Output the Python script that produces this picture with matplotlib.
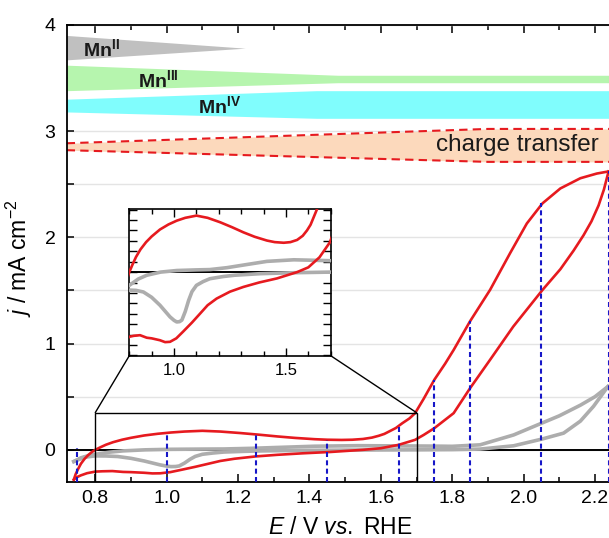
import matplotlib
matplotlib.use("Agg")
import matplotlib.pyplot as plt
from matplotlib.patches import Rectangle, ConnectionPatch
from matplotlib.ticker import MultipleLocator, FuncFormatter

plt.rcParams['font.family'] = ['Liberation Sans', 'DejaVu Sans']
plt.rcParams['mathtext.fontset'] = 'custom'
plt.rcParams['mathtext.rm'] = 'Liberation Sans'
plt.rcParams['mathtext.it'] = 'Liberation Sans:italic'
plt.rcParams['mathtext.bf'] = 'Liberation Sans:bold'

###############################################################################
# Data

# red CV, anodic (upper) branch
red_fwd_E = [0.740, 0.745, 0.752, 0.760, 0.770, 0.780, 0.790, 0.800, 0.815, 0.830,
             0.850, 0.875, 0.900, 0.937, 0.975, 1.012, 1.050, 1.100, 1.150, 1.206,
             1.260, 1.310, 1.360, 1.415, 1.450, 1.490, 1.520, 1.550, 1.575, 1.594,
             1.610, 1.624, 1.642, 1.660, 1.680, 1.696, 1.720, 1.750, 1.780, 1.804,
             1.850, 1.906, 1.962, 2.009, 2.053, 2.103, 2.159, 2.205, 2.238]
red_fwd_j = [-0.280, -0.230, -0.180, -0.130, -0.085, -0.050, -0.022, 0.000, 0.025, 0.048,
             0.072, 0.095, 0.113, 0.135, 0.151, 0.163, 0.172, 0.179, 0.172, 0.158,
             0.142, 0.126, 0.112, 0.100, 0.095, 0.093, 0.095, 0.102, 0.115, 0.132,
             0.150, 0.174, 0.205, 0.250, 0.295, 0.345, 0.480, 0.660, 0.810, 0.940,
             1.210, 1.505, 1.850, 2.130, 2.320, 2.460, 2.556, 2.600, 2.620]

# red CV, cathodic (lower) branch
red_bwd_E = [2.238, 2.225, 2.210, 2.190, 2.168, 2.140, 2.103, 2.053, 1.971, 1.906,
             1.850, 1.804, 1.750, 1.720, 1.696, 1.650, 1.600, 1.550, 1.460, 1.380,
             1.310, 1.250, 1.190, 1.150, 1.117, 1.080, 1.040, 1.010, 0.982, 0.960,
             0.937, 0.900, 0.878, 0.848, 0.820, 0.800, 0.777, 0.760, 0.748, 0.740]
red_bwd_j = [2.620, 2.450, 2.300, 2.150, 2.020, 1.875, 1.700, 1.505, 1.160, 0.847,
             0.580, 0.345, 0.204, 0.140, 0.094, 0.047, 0.015, 0.000, -0.020, -0.033,
             -0.047, -0.062, -0.084, -0.105, -0.131, -0.160, -0.189, -0.210, -0.221, -0.222,
             -0.216, -0.210, -0.208, -0.200, -0.202, -0.205, -0.220, -0.240, -0.258, -0.280]

# grey CV (reference), upper branch
grey_up_E = [0.740, 0.760, 0.780, 0.800, 0.840, 0.878, 0.940, 1.012, 1.100, 1.160,
             1.236, 1.325, 1.415, 1.535, 1.650, 1.750, 1.800, 1.878, 1.972, 2.050,
             2.100, 2.159, 2.200, 2.236]
grey_up_j = [-0.110, -0.075, -0.055, -0.042, -0.022, -0.010, 0.000, 0.005, 0.007, 0.008,
             0.014, 0.024, 0.034, 0.039, 0.037, 0.035, 0.033, 0.047, 0.140, 0.250,
             0.320, 0.420, 0.500, 0.595]

# grey CV (reference), lower branch
grey_lo_E = [0.740, 0.770, 0.800, 0.830, 0.863, 0.900, 0.937, 0.965, 0.982, 1.000,
             1.012, 1.025, 1.035, 1.050, 1.065, 1.080, 1.100, 1.130, 1.160, 1.220,
             1.270, 1.385, 1.535, 1.700, 1.800, 1.878, 1.972, 2.050, 2.112, 2.159,
             2.196, 2.236]
grey_lo_j = [-0.110, -0.070, -0.057, -0.058, -0.063, -0.080, -0.105, -0.128, -0.142, -0.153,
             -0.158, -0.157, -0.152, -0.125, -0.090, -0.062, -0.042, -0.030, -0.021, -0.014,
             -0.010, -0.005, -0.002, 0.000, 0.002, 0.007, 0.038, 0.100, 0.157, 0.270,
             0.410, 0.595]

# potentials marked with blue dashed lines and the current they reach
mark_E = [0.75, 1.00, 1.25, 1.45, 1.65, 1.75, 1.85, 2.05, 2.24]
mark_j = [0.02, 0.163, 0.147, 0.095, 0.235, 0.66, 1.21, 2.32, 2.62]

# oxidation-state bands (x breakpoints, upper edge, lower edge)
mn2_E, mn2_top, mn2_bot = [0.72, 1.22], [3.90, 3.78], [3.67, 3.78]
mn3_E, mn3_top, mn3_bot = [0.72, 1.48, 2.30], [3.62, 3.525, 3.525], [3.38, 3.455, 3.455]
mn4_E, mn4_top, mn4_bot = [0.72, 1.42, 2.30], [3.30, 3.38, 3.38], [3.18, 3.12, 3.12]
ct_E, ct_top, ct_bot = [0.72, 1.90, 2.30], [2.885, 3.02, 3.02], [2.82, 2.71, 2.71]

red = '#e61a1f'
grey = '#adadad'
blue = '#1717c8'

###############################################################################
# Main axes (the right part runs past the figure edge, as in the cropped original)
fig = plt.figure(figsize=(6.09, 5.38), dpi=100)
ax = fig.add_axes([66.7/609, 56.3/538, 564/609, 456.9/538])
ax.set_xlim(0.72, 2.30)
ax.set_ylim(-0.30, 4.0)

ax.yaxis.set_major_locator(MultipleLocator(1))
ax.yaxis.set_minor_locator(MultipleLocator(0.5))
ax.xaxis.set_major_locator(MultipleLocator(0.2))
ax.xaxis.set_minor_locator(MultipleLocator(0.1))
ax.xaxis.set_major_formatter(FuncFormatter(lambda v, p: f'{v:.1f}'))
ax.tick_params(which='both', direction='in', top=True, width=1.1, labelsize=14)
ax.tick_params(axis='x', which='major', length=6, pad=6)
ax.tick_params(axis='x', which='minor', length=3.3)
ax.tick_params(axis='y', which='both', length=5, pad=8)
for s in ax.spines.values():
    s.set_linewidth(1.3)

ax.grid(True, axis='y', which='both', color='#e4e4e4', linewidth=1.0, zorder=0)
ax.set_axisbelow(True)

# bands
ax.fill_between(mn2_E, mn2_top, mn2_bot, color='#c0c0c0', lw=0, zorder=1)
ax.fill_between(mn3_E, mn3_top, mn3_bot, color='#b6f5ae', lw=0, zorder=1)
ax.fill_between(mn4_E, mn4_top, mn4_bot, color='#80fdfd', lw=0, zorder=1)
ax.fill_between(ct_E, ct_top, ct_bot, color='#fcd9bc', lw=0, zorder=1)
ax.plot(ct_E, ct_top, color=red, lw=1.5, ls=(0, (4, 2.5)), zorder=2)
ax.plot(ct_E, ct_bot, color=red, lw=1.5, ls=(0, (4, 2.5)), zorder=2)

ax.text(0.765, 3.77, r'Mn$^{\mathbf{II}}$', fontsize=14, fontweight='bold',
        ha='left', va='center', color='#1a1a1a', zorder=3)
ax.text(0.92, 3.48, r'Mn$^{\mathbf{III}}$', fontsize=14, fontweight='bold',
        ha='left', va='center', color='#1a1a1a', zorder=3)
ax.text(1.088, 3.23, r'Mn$^{\mathbf{IV}}$', fontsize=14, fontweight='bold',
        ha='left', va='center', color='#1a1a1a', zorder=3)
ax.text(1.755, 2.87, 'charge transfer', fontsize=17.5, ha='left', va='center',
        color='#1a1a1a', zorder=3)

# curves
ax.axhline(0, color='black', lw=1.4, zorder=2)
ax.plot(grey_up_E, grey_up_j, color=grey, lw=2.6, zorder=3)
ax.plot(grey_lo_E, grey_lo_j, color=grey, lw=2.6, zorder=3)
ax.plot(red_fwd_E, red_fwd_j, color=red, lw=1.9, zorder=4)
ax.plot(red_bwd_E, red_bwd_j, color=red, lw=1.9, zorder=4)
ax.vlines(mark_E, -0.30, mark_j, colors=blue, lw=1.5, linestyles=(0, (2.4, 1.6)), zorder=5)

ax.set_xlabel(r'$E$ / V $vs.$ RHE', fontsize=16.5)
ax.set_ylabel(r'$j$ / mA cm$^{-2}$', fontsize=16.5)
ax.xaxis.set_label_coords(0.485, -0.076)
ax.yaxis.set_label_coords(-0.058, 0.49)

# zoom rectangle
zx0, zx1, zy0, zy1 = 0.8, 1.7, -0.30, 0.35
ax.add_patch(Rectangle((zx0, zy0), zx1 - zx0, zy1 - zy0, fill=False,
                       edgecolor='black', lw=1.0, zorder=6))

###############################################################################
# Inset
axin = fig.add_axes([129.3/609, (538-355.7)/538, 201.4/609, 146.7/538])
axin.set_xlim(zx0, zx1)
axin.set_ylim(-0.265, 0.2)
axin.xaxis.set_major_locator(MultipleLocator(0.5))
axin.xaxis.set_minor_locator(MultipleLocator(0.1))
axin.yaxis.set_major_locator(MultipleLocator(0.033))
axin.yaxis.set_major_formatter(FuncFormatter(lambda v, p: ''))
axin.tick_params(which='both', direction='in', top=True, right=True, width=1.0,
                 labelsize=12, pad=5)
axin.tick_params(which='major', length=6)
axin.tick_params(which='minor', length=3.5)
for s in axin.spines.values():
    s.set_linewidth(1.2)

axin.axhline(0, color='black', lw=1.4, zorder=2)
axin.plot(grey_up_E, grey_up_j, color=grey, lw=2.6, zorder=3)
axin.plot(grey_lo_E, grey_lo_j, color=grey, lw=2.6, zorder=3)
axin.plot(red_fwd_E, red_fwd_j, color=red, lw=1.9, zorder=4)
axin.plot(red_bwd_E, red_bwd_j, color=red, lw=1.9, zorder=4)

for xa, xb in [(zx0, 0), (zx1, 1)]:
    con = ConnectionPatch(xyA=(xa, zy1), coordsA=ax.transData,
                          xyB=(xb, 0), coordsB=axin.transAxes,
                          color='black', lw=1.0)
    fig.add_artist(con)

fig.savefig('out.png', dpi=100)
